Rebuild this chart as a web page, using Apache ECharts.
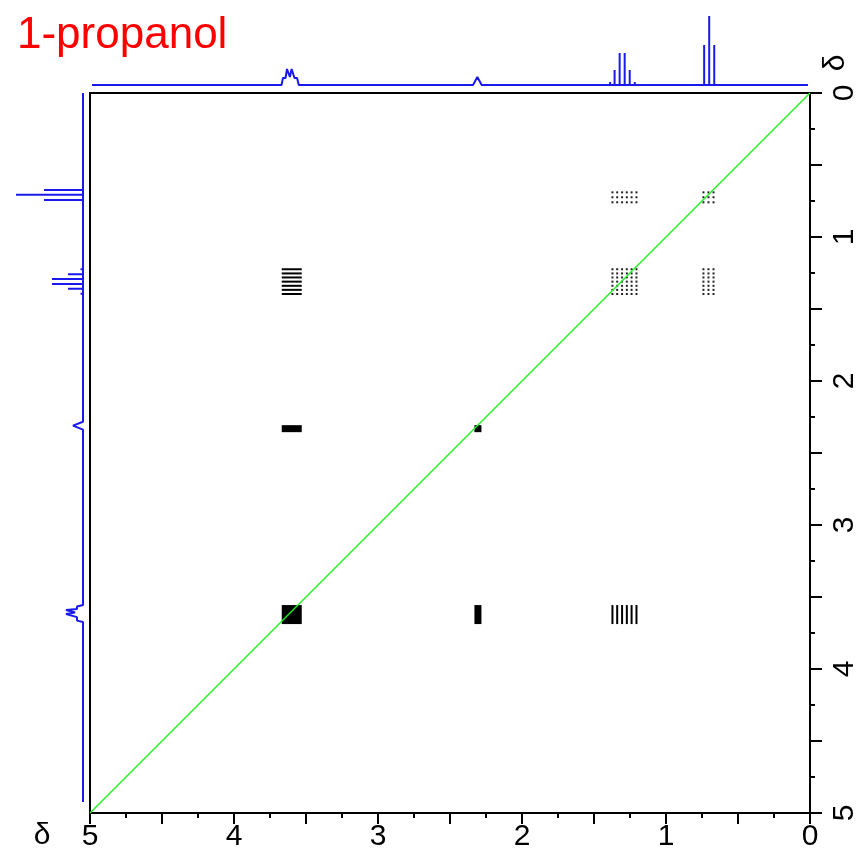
<!DOCTYPE html>
<html><head><meta charset="utf-8">
<script src="https://cdn.jsdelivr.net/npm/echarts@6/dist/echarts.min.js"></script>
<style>html,body{margin:0;padding:0;background:#fff}#c{width:856px;height:856px}</style>
</head><body><div id="c"></div>
<script>
const titleText = '1-propanol';
const axisName = 'δ';
const ppmMin = 0, ppmMax = 5;

// ---- 1D trace on top (ppm, intensity) ----
const topRange = [4.986, 0.014];
const topOCH2 = [[3.670,0],[3.660,7],[3.642,7],[3.632,16],[3.624,16],[3.612,8],[3.600,16],[3.592,16],[3.580,7],[3.562,7],[3.550,0]];
const topOH = [[2.340,0],[2.310,8],[2.280,0]];
const topCH2 = [[1.388,3],[1.357,15],[1.322,32],[1.287,32],[1.252,15],[1.217,3]];
const topCH3 = [[0.735,40],[0.700,69],[0.665,40]];

// ---- 1D trace on the left (ppm, intensity) ----
const leftRange = [0.0, 4.924];
const leftCH3 = [[0.674,39],[0.706,67],[0.743,39]];
const leftCH2 = [[1.224,2.5],[1.259,15],[1.292,31],[1.326,31],[1.359,15],[1.394,2.5]];
const leftOH = [[2.283,0],[2.310,10],[2.338,0]];
const leftOCH2 = [[3.556,0],[3.566,6],[3.583,6],[3.590,17],[3.597,17],[3.608,8],[3.618,17],[3.625,17],[3.640,6],[3.664,6],[3.674,0]];

// ---- 2D cross-peak line positions (ppm) ----
const colCH3 = [0.740,0.705,0.670];
const colCH2 = [1.372,1.339,1.305,1.272,1.239,1.205];
const colOH = 2.306;
const colOCH2 = 3.599;
const rowCH3 = [0.690,0.724,0.759];
const rowCH2 = [1.224,1.253,1.281,1.310,1.339,1.367,1.396];
const rowOH = 2.331;
const rowOCH2 = 3.622;

function sticks(list){ const out=[]; list.forEach(([p,h])=>{out.push([p,0],[p,h],[p,0]);}); return out; }

const topData = [[topRange[0],0], ...topOCH2, ...topOH, ...sticks(topCH2), ...sticks(topCH3), [topRange[1],0]];
const leftPts = [[leftRange[0],0], ...sticks(leftCH3), ...sticks(leftCH2), ...leftOH, ...leftOCH2, [leftRange[1],0]];
const leftData = leftPts.map(([p,h])=>[h,p]);

const dots = [];
function grid(cols, rows){ cols.forEach(c=>rows.forEach(r=>dots.push([c,r]))); }
grid(colCH2,rowCH3); grid(colCH3,rowCH3); grid(colCH2,rowCH2); grid(colCH3,rowCH2);

const numFont = '"Liberation Sans Narrow","Liberation Sans",Arial,sans-serif';
const blue = '#1a1aee';

const chart = echarts.init(document.getElementById('c'));
chart.setOption({
  animation:false,
  backgroundColor:'#fff',
  title:{text:titleText,left:12,top:9,textStyle:{color:'#ff0000',fontSize:44,fontWeight:'normal',fontFamily:'"Liberation Sans",Arial,sans-serif'}},
  graphic:[
    {type:'text',x:42,y:836,style:{text:axisName,fill:'#000',font:'30px '+numFont,align:'center',verticalAlign:'middle'}},
    {type:'text',x:836,y:63,rotation:Math.PI/2,style:{text:axisName,fill:'#000',font:'30px '+numFont,align:'center',verticalAlign:'middle'}}
  ],
  grid:[
    {left:90,top:93,width:720,height:720,show:true,borderColor:'#000',borderWidth:2,backgroundColor:'transparent',outerBoundsMode:'none',containLabel:false},
    {left:90,top:0,width:720,height:85,outerBoundsMode:'none',containLabel:false},
    {left:0,top:93,width:83,height:720,outerBoundsMode:'none',containLabel:false}
  ],
  xAxis:[
    {gridIndex:0,type:'value',min:ppmMin,max:ppmMax,inverse:true,interval:0.5,position:'bottom',
     axisLine:{onZero:false,lineStyle:{color:'#000',width:2}},
     axisTick:{show:true,inside:false,length:11,lineStyle:{color:'#000',width:2}},
     minorTick:{show:true,splitNumber:2,length:5,lineStyle:{color:'#000',width:2}},
     axisLabel:{formatter:v=>Number.isInteger(v)?String(v):'',margin:9,fontFamily:numFont,fontSize:30,color:'#000'},
     splitLine:{show:false}},
    {gridIndex:1,type:'value',min:ppmMin,max:ppmMax,inverse:true,show:false},
    {gridIndex:2,type:'value',min:0,max:83,inverse:true,show:false}
  ],
  yAxis:[
    {gridIndex:0,type:'value',min:ppmMin,max:ppmMax,inverse:true,interval:0.5,position:'right',
     axisLine:{show:true,onZero:false,lineStyle:{color:'#000',width:2}},
     axisTick:{show:true,inside:false,length:12,lineStyle:{color:'#000',width:2}},
     minorTick:{show:true,splitNumber:2,length:5,lineStyle:{color:'#000',width:2}},
     axisLabel:{formatter:v=>Number.isInteger(v)?String(v):'',margin:20,rotate:90,fontFamily:numFont,fontSize:30,color:'#000'},
     splitLine:{show:false}},
    {gridIndex:1,type:'value',min:0,max:85,show:false},
    {gridIndex:2,type:'value',min:ppmMin,max:ppmMax,inverse:true,show:false}
  ],
  series:[
    {type:'line',xAxisIndex:1,yAxisIndex:1,data:topData,showSymbol:false,silent:true,clip:false,lineStyle:{color:blue,width:2}},
    {type:'line',xAxisIndex:2,yAxisIndex:2,data:leftData,showSymbol:false,silent:true,clip:false,lineStyle:{color:blue,width:2}},
    {type:'scatter',xAxisIndex:0,yAxisIndex:0,symbol:'rect',silent:true,itemStyle:{color:'#000',opacity:1},
     data:[{value:[colOCH2,rowOCH2],symbolSize:[20,19]},{value:[colOH,rowOH],symbolSize:[7,7]},{value:[colOCH2,rowOH],symbolSize:[20,7]},{value:[colOH,rowOCH2],symbolSize:[7,19]}]},
    {type:'scatter',xAxisIndex:0,yAxisIndex:0,symbol:'rect',silent:true,symbolSize:[20,2],itemStyle:{color:'#000',opacity:1},data:rowCH2.map(r=>[colOCH2,r])},
    {type:'scatter',xAxisIndex:0,yAxisIndex:0,symbol:'rect',silent:true,symbolSize:[2,19],itemStyle:{color:'#000',opacity:1},data:colCH2.map(c=>[c,rowOCH2])},
    {type:'scatter',xAxisIndex:0,yAxisIndex:0,symbol:'rect',silent:true,symbolSize:[2,2],itemStyle:{color:'#222',opacity:1},data:dots},
    {type:'line',xAxisIndex:0,yAxisIndex:0,data:[[ppmMax,ppmMax],[ppmMin,ppmMin]],showSymbol:false,silent:true,z:5,lineStyle:{color:'#22ee22',width:1.5}}
  ]
});
</script></body></html>
